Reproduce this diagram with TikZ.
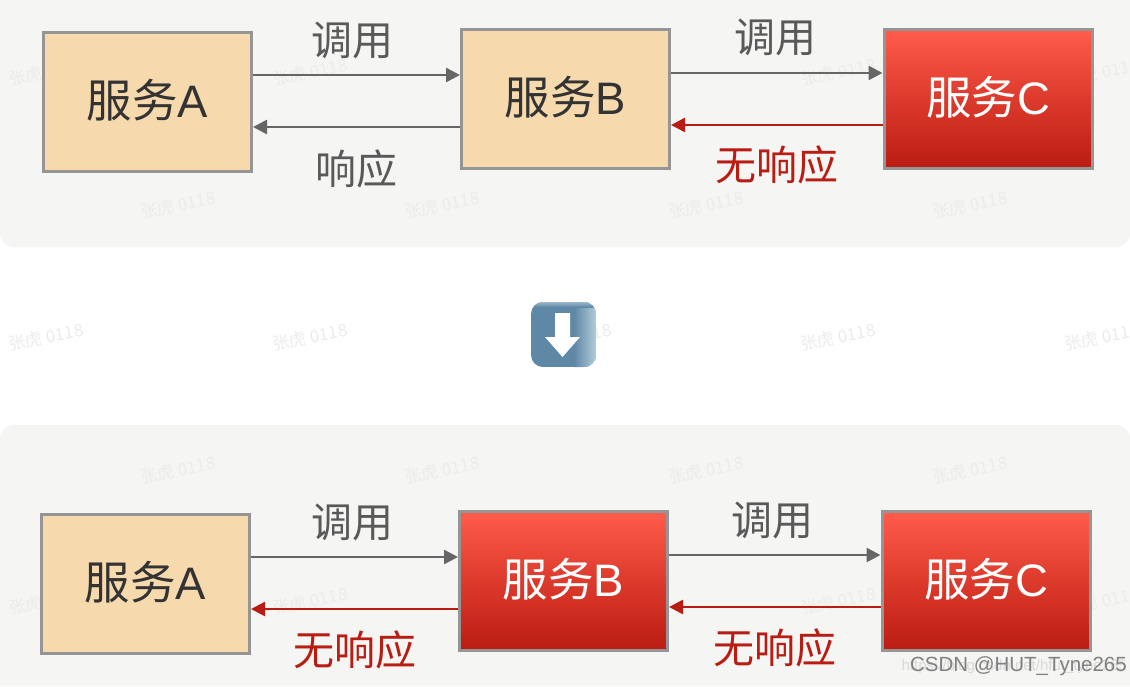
\documentclass[tikz,border=0pt]{standalone}
\usepackage{fontspec}
\setmainfont{Noto Sans CJK SC}
\newfontfamily\latinface{Liberation Sans}
\usetikzlibrary{arrows.meta}
\definecolor{panelbg}{HTML}{F5F5F3}
\definecolor{boxtan}{HTML}{F6D9AC}
\definecolor{boxedge}{HTML}{959595}
\definecolor{flowgray}{HTML}{666666}
\definecolor{flowred}{HTML}{B81C12}
\definecolor{labelgray}{HTML}{595959}
\definecolor{markgray}{HTML}{ECECEA}
\definecolor{hotTop}{HTML}{FF5C4D}
\definecolor{hotMid}{HTML}{DC3A2C}
\definecolor{hotBot}{HTML}{BB1C12}
\definecolor{iconA}{HTML}{5F88A7}
\definecolor{iconB}{HTML}{B4CBDA}
\tikzset{
  okbox/.style={draw=boxedge,line width=3pt,fill=boxtan,minimum width=208pt,minimum height=139pt,inner sep=0pt,text=black!80,font=\fontsize{45.5}{46}\selectfont},
  badbox/.style={draw=boxedge,line width=3pt,top color=hotTop,bottom color=hotBot,middle color=hotMid,minimum width=208pt,minimum height=139pt,inner sep=0pt,text=white,font=\fontsize{45.5}{46}\selectfont},
  callflow/.style={draw=flowgray,line width=2.5pt,-{Triangle[length=14pt,width=14pt]}},
  failflow/.style={draw=flowred,line width=2.5pt,-{Triangle[length=14pt,width=14pt]}},
  graylabel/.style={text=labelgray,inner sep=0pt,font=\fontsize{41}{41}\selectfont},
  redlabel/.style={text=flowred,inner sep=0pt,font=\fontsize{41}{41}\selectfont},
  watermark/.style={text=markgray,rotate=11,inner sep=0pt,font=\fontsize{17}{17}\selectfont},
}
\newcommand{\svcname}[1]{\raisebox{2pt}[\height][\depth]{服务{\latinface #1}}}
\begin{document}
\begin{tikzpicture}[x=1pt,y=-1pt]
\useasboundingbox (0,0) rectangle (1130,686);
\fill[white] (0,0) rectangle (1130,686);
% panels
\fill[panelbg] (0,0) -- (1130,0) [rounded corners=14pt] -- (1130,247) -- (0,247) [sharp corners] -- cycle;
\fill[panelbg] (0,686) -- (1130,686) [rounded corners=14pt] -- (1130,425) -- (0,425) [sharp corners] -- cycle;
% watermarks
\foreach \wx in {46,310,574,838,1102} \foreach \wy in {72,337,601}
  \node[watermark] (wa\wx\wy) at (\wx,\wy) {张虎 0118};
\foreach \wx in {178,442,706,970} \foreach \wy in {205,470}
  \node[watermark] (wb\wx\wy) at (\wx,\wy) {张虎 0118};
% top row
\node[okbox]  (a1) at (147.5,102) {\svcname{A}};
\node[okbox]  (b1) at (565.5,99)  {\svcname{B}};
\node[badbox] (c1) at (988,99)    {\svcname{C}};
\draw[callflow] ([yshift=27pt]a1.east) -- ([yshift=24pt]b1.west);
\draw[callflow] ([yshift=-28pt]b1.west) -- ([yshift=-25pt]a1.east);
\draw[callflow] ([yshift=26pt]b1.east) -- ([yshift=26pt]c1.west);
\draw[failflow] ([yshift=-26pt]c1.west) -- ([yshift=-26pt]b1.east);
\node[graylabel] (l1) at (352,40)  {调用};
\node[graylabel] (l2) at (356,169) {响应};
\node[graylabel] (l3) at (775,37)  {调用};
\node[redlabel]  (l4) at (777,165) {无响应};
% transition icon
\begin{scope}
\clip[rounded corners=12pt] (531,302) rectangle (596,367);
\fill[iconA] (531,302) rectangle (596,367);
\shade[left color=iconA,right color=iconB] (574,302) rectangle (596,367);
\shade[top color=iconB!70!iconA,bottom color=iconA] (531,302) rectangle (596,307);
\end{scope}
\fill[white] (555,313) -- (570,313) -- (570,337) -- (580,337) -- (562.5,357) -- (545,337) -- (555,337) -- cycle;
% bottom row
\node[okbox]  (a2) at (145.5,584) {\svcname{A}};
\node[badbox] (b2) at (563.5,581) {\svcname{B}};
\node[badbox] (c2) at (986,581)   {\svcname{C}};
\draw[callflow] ([yshift=27pt]a2.east) -- ([yshift=24pt]b2.west);
\draw[failflow] ([yshift=-28pt]b2.west) -- ([yshift=-25pt]a2.east);
\draw[callflow] ([yshift=26pt]b2.east) -- ([yshift=26pt]c2.west);
\draw[failflow] ([yshift=-26pt]c2.west) -- ([yshift=-26pt]b2.east);
\node[graylabel] (l5) at (352,522) {调用};
\node[redlabel]  (l6) at (355,650) {无响应};
\node[graylabel] (l7) at (772,520) {调用};
\node[redlabel]  (l8) at (775,648) {无响应};
% image credits
\node[anchor=east,inner sep=0pt,text=white!85!black,font=\latinface\fontsize{15}{15}\selectfont] (u1) at (1127,667) {https://blog.csdn.net/hfut\_tyne265};
\node[anchor=east,inner sep=0pt,text=black!50,font=\latinface\fontsize{20.5}{21}\selectfont] (u2) at (1127,666) {CSDN @HUT\_Tyne265};
\end{tikzpicture}
\end{document}
